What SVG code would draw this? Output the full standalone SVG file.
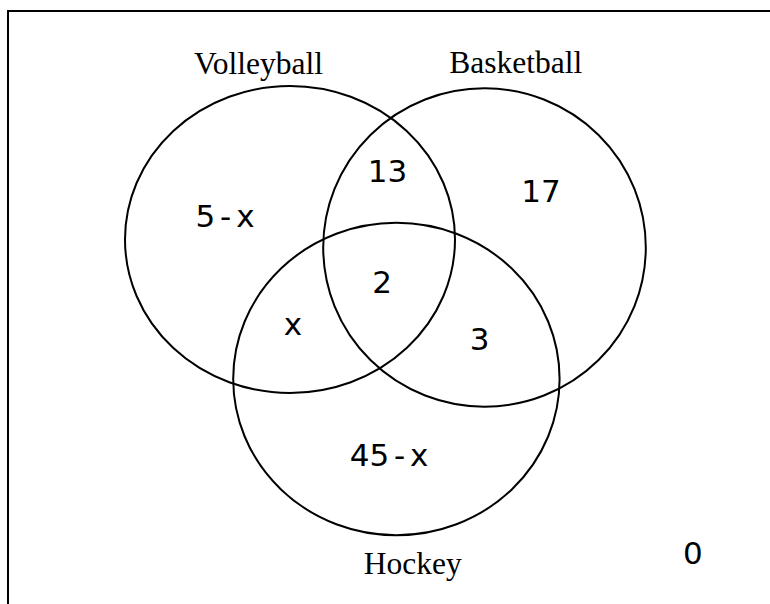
<svg xmlns="http://www.w3.org/2000/svg" width="770" height="604" viewBox="0 0 770 604">
<style>
.set{fill:none;stroke:#000;stroke-width:2}
.title{font-family:"Liberation Serif","Times New Roman",serif;font-size:31.5px;fill:#000;text-anchor:middle}
.num{font-family:"DejaVu Sans",Verdana,sans-serif;font-size:31px;fill:#000;text-anchor:middle;word-spacing:-5px}
</style>
<rect width="770" height="604" fill="#fff"/>
<path d="M8,604 V11 H770" fill="none" stroke="#000" stroke-width="2"/>
<g id="volleyball">
<ellipse class="set" cx="290" cy="239.5" rx="165" ry="153.5"/>
<text class="title" x="258.5" y="74">Volleyball</text>
</g>
<g id="basketball">
<ellipse class="set" cx="484.5" cy="247.5" rx="161.3" ry="159.2"/>
<text class="title" x="515.7" y="73.3">Basketball</text>
</g>
<g id="hockey">
<ellipse class="set" cx="396.4" cy="379" rx="163.2" ry="156.2"/>
<text class="title" x="412.8" y="574">Hockey</text>
</g>
<g id="regions">
<text class="num" x="387.5" y="181.7">13</text>
<text class="num" x="541" y="201.7">17</text>
<text class="num" x="225" y="226.7">5 - x</text>
<text class="num" x="382" y="292.7">2</text>
<text class="num" x="293" y="335">x</text>
<text class="num" x="479.7" y="350">3</text>
<text class="num" x="389" y="466">45 - x</text>
<text class="num" x="692.8" y="564">0</text>
</g>
</svg>
